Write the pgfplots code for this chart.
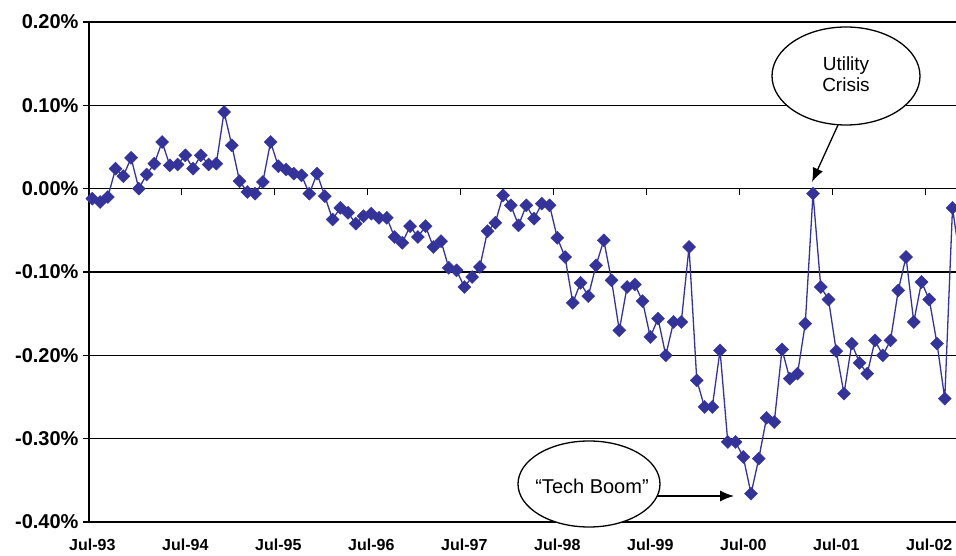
\documentclass[border=0pt]{standalone}
\usepackage{pgfplots}
\usepackage{pgfplotstable}
\pgfplotsset{compat=1.18}
\usetikzlibrary{arrows.meta}
\usepackage{fontspec}
\setmainfont{Liberation Sans}
\definecolor{xlblue}{RGB}{51,51,153}

\pgfplotstableread{
m v
0 -0.012
1 -0.016
2 -0.010
3 0.024
4 0.015
5 0.037
6 0.000
7 0.017
8 0.030
9 0.056
10 0.028
11 0.029
12 0.040
13 0.024
14 0.040
15 0.029
16 0.030
17 0.092
18 0.052
19 0.009
20 -0.004
21 -0.006
22 0.008
23 0.056
24 0.027
25 0.023
26 0.018
27 0.016
28 -0.006
29 0.018
30 -0.009
31 -0.037
32 -0.023
33 -0.029
34 -0.042
35 -0.033
36 -0.030
37 -0.035
38 -0.035
39 -0.058
40 -0.065
41 -0.045
42 -0.058
43 -0.045
44 -0.070
45 -0.063
46 -0.095
47 -0.098
48 -0.118
49 -0.106
50 -0.094
51 -0.051
52 -0.041
53 -0.008
54 -0.020
55 -0.044
56 -0.020
57 -0.036
58 -0.018
59 -0.020
60 -0.059
61 -0.082
62 -0.137
63 -0.113
64 -0.129
65 -0.092
66 -0.062
67 -0.110
68 -0.170
69 -0.118
70 -0.115
71 -0.135
72 -0.178
73 -0.156
74 -0.200
75 -0.160
76 -0.160
77 -0.070
78 -0.230
79 -0.262
80 -0.262
81 -0.194
82 -0.304
83 -0.304
84 -0.322
85 -0.366
86 -0.324
87 -0.275
88 -0.280
89 -0.193
90 -0.228
91 -0.222
92 -0.162
93 -0.006
94 -0.118
95 -0.133
96 -0.195
97 -0.246
98 -0.186
99 -0.209
100 -0.222
101 -0.182
102 -0.200
103 -0.182
104 -0.122
105 -0.082
106 -0.160
107 -0.112
108 -0.133
109 -0.186
110 -0.252
111 -0.023
112 -0.088
}\datatable

\begin{document}
\begin{tikzpicture}[x=1pt,y=1pt]
\useasboundingbox (-89,-34) rectangle (867,522);
\begin{axis}[
  at={(0,0)}, anchor=south west,
  scale only axis,
  width=867pt, height=500pt,
  xmin=-0.43, xmax=111.45,
  ymin=-0.4, ymax=0.2,
  axis lines*=left,
  axis line style={black, line width=1.6pt},
  xtick={0,12,24,36,48,60,72,84,96,108},
  xticklabels={Jul-93,Jul-94,Jul-95,Jul-96,Jul-97,Jul-98,Jul-99,Jul-00,Jul-01,Jul-02},
  x tick label style={font=\fontsize{16}{16}\selectfont\bfseries, yshift=-13pt},
  xtick style={draw=none},
  ytick={-0.4,-0.3,-0.2,-0.1,0,0.1,0.2},
  yticklabels={-0.40\%,-0.30\%,-0.20\%,-0.10\%,0.00\%,0.10\%,0.20\%},
  y tick label style={font=\fontsize{20}{20}\selectfont\bfseries, xshift=-1pt},
  ytick align=outside,
  ytick style={black, line width=1.2pt},
  major tick length=6pt,
  ymajorgrids,
  grid style={black, line width=1.3pt},
  clip=true,
]
\addplot[xlblue, line width=1.3pt, mark=square*, mark size=4.6pt,
  mark options={rotate=45, fill=xlblue, draw=xlblue, line width=0.4pt}]
  table[x=m, y=v] {\datatable};
\foreach \k in {11.5,23.5,35.5,47.5,59.5,71.5,83.5,95.5,107.5} {
  \edef\temp{\noexpand\draw[black, line width=1.2pt] (axis cs:\k,0) -- ([yshift=-6pt]axis cs:\k,0);}
  \temp
}
\end{axis}
% annotations
\draw[black, line width=1.3pt, -{Latex[length=14pt,width=11pt]}] (749,397) -- (723,340);
\draw[black, line width=1.3pt, fill=white] (757,446) ellipse [x radius=74, y radius=49];
\node[align=center, font=\fontsize{19}{21}\selectfont] at (757,448) {Utility\\Crisis};
\draw[black, line width=1.3pt, -{Latex[length=14pt,width=11pt]}] (568,26) -- (645,26);
\draw[black, line width=1.3pt, fill=white] (500,38) ellipse [x radius=71, y radius=43];
\node[font=\fontsize{20}{22}\selectfont] at (503,36) {“Tech Boom”};
\end{tikzpicture}
\end{document}
